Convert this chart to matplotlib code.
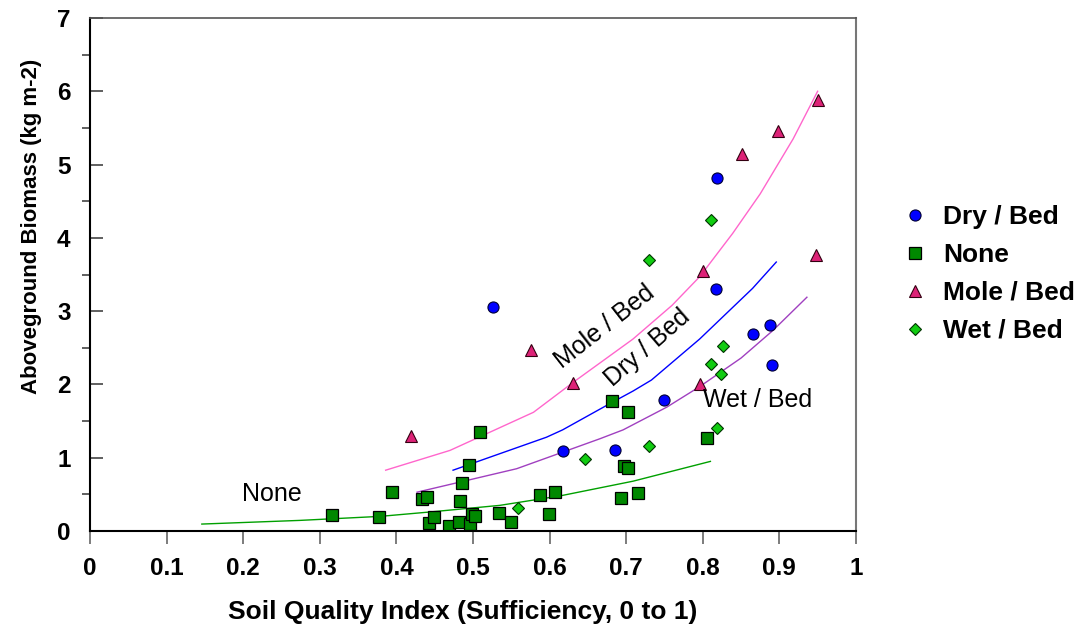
import matplotlib.pyplot as plt
from matplotlib.ticker import MultipleLocator

# measured points
dry_x = [0.526, 0.818, 0.817, 0.617, 0.685, 0.749, 0.866, 0.888, 0.890]
dry_y = [3.06, 4.82, 3.30, 1.09, 1.10, 1.79, 2.69, 2.81, 2.27]

none_x = [0.316, 0.377, 0.394, 0.433, 0.440, 0.442, 0.449, 0.469, 0.483, 0.486,
          0.482, 0.495, 0.496, 0.499, 0.502, 0.509, 0.534, 0.549, 0.588, 0.599,
          0.607, 0.681, 0.703, 0.697, 0.703, 0.693, 0.716, 0.805]
none_y = [0.22, 0.19, 0.53, 0.44, 0.46, 0.11, 0.19, 0.07, 0.41, 0.65,
          0.12, 0.90, 0.10, 0.23, 0.20, 1.35, 0.25, 0.12, 0.49, 0.23,
          0.53, 1.77, 1.63, 0.89, 0.86, 0.45, 0.52, 1.27]

mole_x = [0.419, 0.576, 0.631, 0.800, 0.797, 0.851, 0.898, 0.950, 0.948]
mole_y = [1.30, 2.47, 2.02, 3.55, 2.01, 5.14, 5.46, 5.88, 3.77]

wet_x = [0.730, 0.811, 0.827, 0.811, 0.824, 0.818, 0.730, 0.646, 0.559]
wet_y = [3.70, 4.24, 2.52, 2.28, 2.14, 1.41, 1.16, 0.98, 0.31]

# fitted curves
none_fit_x = [0.146, 0.274, 0.379, 0.444, 0.535, 0.614, 0.709, 0.810]
none_fit_y = [0.095, 0.145, 0.20, 0.26, 0.35, 0.48, 0.68, 0.95]

mole_fit_x = [0.386, 0.470, 0.535, 0.579, 0.631, 0.709, 0.760, 0.796, 0.839, 0.875, 0.918, 0.950]
mole_fit_y = [0.83, 1.10, 1.41, 1.62, 2.03, 2.62, 3.08, 3.47, 4.06, 4.60, 5.35, 6.00]

dry_fit_x = [0.474, 0.596, 0.617, 0.679, 0.709, 0.733, 0.796, 0.865, 0.896]
dry_fit_y = [0.83, 1.28, 1.38, 1.74, 1.91, 2.06, 2.62, 3.31, 3.67]

wet_fit_x = [0.427, 0.557, 0.666, 0.696, 0.753, 0.796, 0.850, 0.892, 0.936]
wet_fit_y = [0.53, 0.85, 1.26, 1.38, 1.69, 1.97, 2.36, 2.74, 3.19]

plt.rcParams['font.family'] = ['Liberation Sans', 'DejaVu Sans']

fig = plt.figure(figsize=(10.78, 6.33), dpi=100)
ax = fig.add_axes([0.0835, 0.1611, 0.7105, 0.8105])

# curves
ax.plot(none_fit_x, none_fit_y, color='#00A000', lw=1.0)
ax.plot(mole_fit_x, mole_fit_y, color='#FF66CC', lw=1.0)
ax.plot(dry_fit_x, dry_fit_y, color='#0000FF', lw=1.0)
ax.plot(wet_fit_x, wet_fit_y, color='#A040C0', lw=1.0)

# points
ax.plot(dry_x, dry_y, 'o', ms=8, mfc='#0000FF', mec='#000033', mew=0.8,
        label='Dry / Bed')
ax.plot(none_x, none_y, 's', ms=8, mfc='#008800', mec='#000000', mew=0.9,
        label='None')
ax.plot(mole_x, mole_y, '^', ms=8.5, mfc='#DD2277', mec='#330011', mew=0.8,
        label='Mole / Bed')
ax.plot(wet_x, wet_y, 'D', ms=6.5, mfc='#11CC11', mec='#003300', mew=0.8,
        label='Wet / Bed')

# curve labels
ax.text(0.238, 0.50, 'None', fontsize=18, ha='center', va='center')
ax.text(0.672, 2.78, 'Mole / Bed', fontsize=18, ha='center', va='center',
        rotation=38, rotation_mode='anchor')
ax.text(0.728, 2.50, 'Dry / Bed', fontsize=18, ha='center', va='center',
        rotation=41, rotation_mode='anchor')
ax.text(0.872, 1.79, 'Wet / Bed', fontsize=18, ha='center', va='center')

ax.set_xlim(0, 1)
ax.set_ylim(0, 7)
ax.xaxis.set_major_locator(MultipleLocator(0.1))
ax.yaxis.set_major_locator(MultipleLocator(1))
ax.yaxis.set_minor_locator(MultipleLocator(0.5))
ax.xaxis.set_major_formatter(plt.FuncFormatter(lambda v, p: f'{v:g}'))

ax.tick_params(axis='x', which='major', direction='out', length=9, width=1.2,
               color='#666666', pad=9.5, labelsize=17.5)
ax.tick_params(axis='y', which='major', direction='in', length=9.5, width=1.2,
               color='#444444', pad=14, labelsize=17.5)
ax.tick_params(axis='y', which='minor', direction='out', length=6, width=1.2,
               color='#444444')
for lab in ax.get_xticklabels() + ax.get_yticklabels():
    lab.set_fontweight('bold')

ax.spines['left'].set_color('#000000')
ax.spines['bottom'].set_color('#000000')
ax.spines['left'].set_linewidth(1.5)
ax.spines['bottom'].set_linewidth(1.5)
ax.spines['top'].set_color('#555555')
ax.spines['right'].set_color('#777777')
ax.spines['top'].set_linewidth(1.2)
ax.spines['right'].set_linewidth(1.5)

ax.set_xlabel('Soil Quality Index (Sufficiency, 0 to 1)', fontsize=19,
              fontweight='bold')
ax.set_ylabel('Aboveground Biomass (kg m-2)', fontsize=16, fontweight='bold')
ax.xaxis.set_label_coords(0.486, -0.134)
ax.yaxis.set_label_coords(-0.063, 0.593)

leg = ax.legend(loc='upper left', bbox_to_anchor=(902 / 1078, 1 - 205 / 633),
                bbox_transform=fig.transFigure, frameon=False, borderpad=0,
                borderaxespad=0, handlelength=1.0, handletextpad=0.55,
                labelspacing=0.53, prop={'size': 19, 'weight': 'bold'})

fig.savefig('out.png', dpi=100)
